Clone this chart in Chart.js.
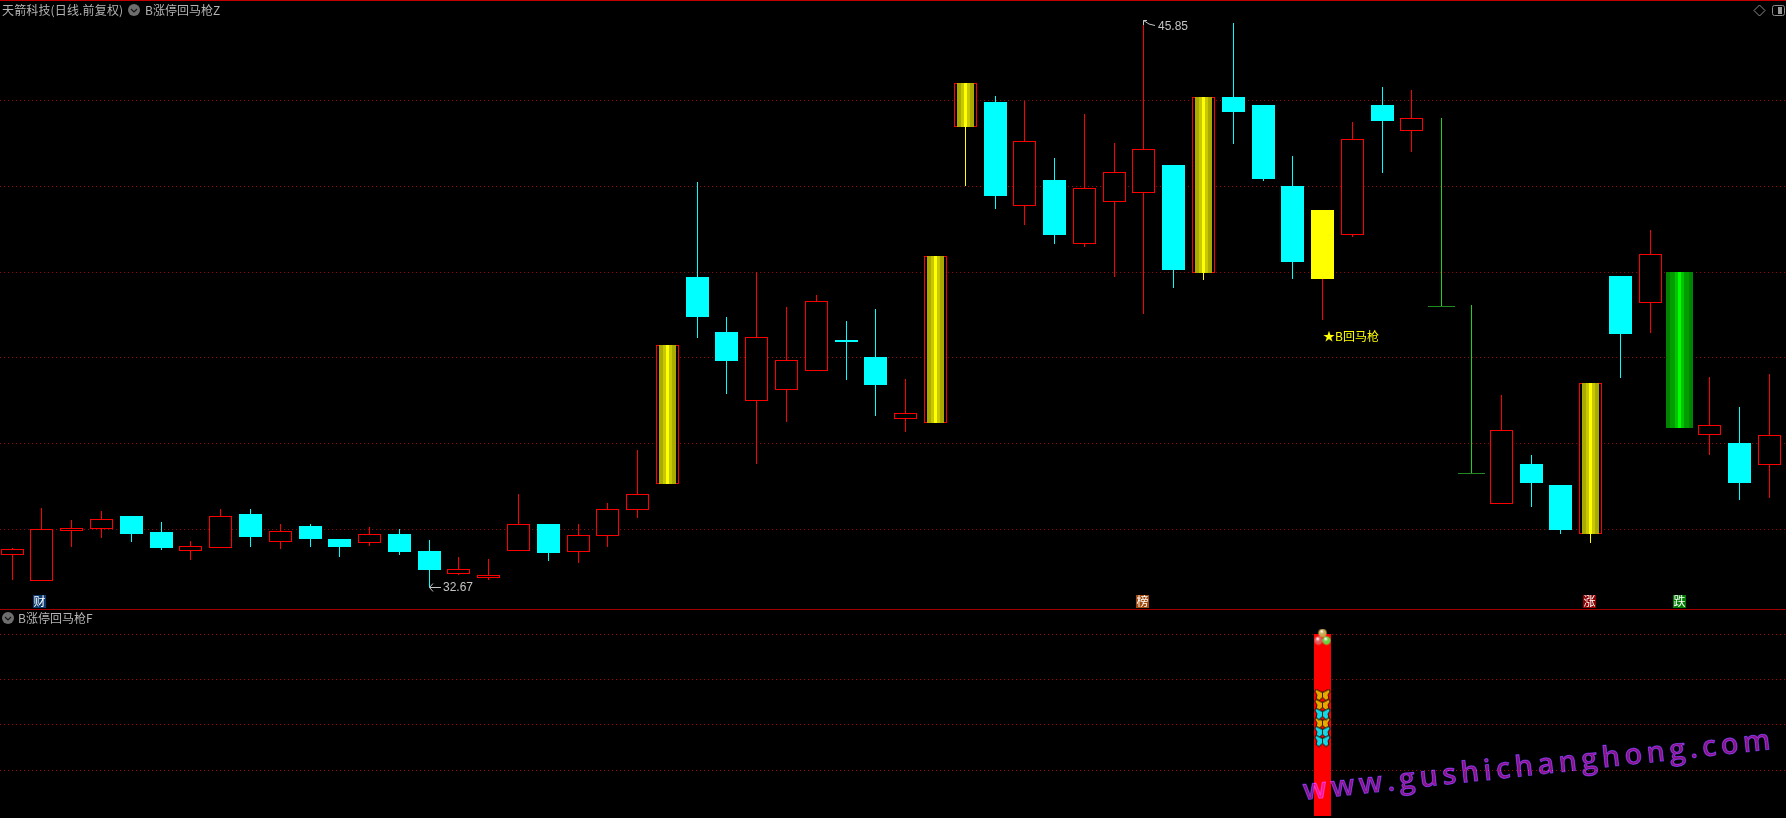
<!DOCTYPE html>
<html lang="zh-CN">
<head>
<meta charset="utf-8">
<title>天箭科技 B涨停回马枪</title>
<script src="https://cdn.jsdelivr.net/npm/chart.js@4/dist/chart.umd.js"></script>
<style>
html,body{margin:0;padding:0;background:#000;overflow:hidden;width:1786px;height:818px}
canvas{position:absolute;left:0;display:block}
#top{top:0}
#bottom{top:610px}
</style>
</head>
<body>
<canvas id="top" width="1786" height="610"></canvas>
<canvas id="bottom" width="1786" height="208"></canvas>
<script>
const opens  = [33.42,32.81,33.98,34.03,34.33,33.95,33.51,33.58,34.38,33.72,34.09,33.79,33.70,33.91,33.51,32.97,32.88,33.51,34.14,33.49,33.86,34.47,35.08,39.91,38.63,37.02,37.27,37.72,38.44,38.04,36.60,36.50,43.42,44.00,41.57,42.18,40.69,41.67,41.88,42.53,40.01,44.12,43.93,42.04,41.48,40.90,43.93,43.33,39.24,35.33,34.61,35.54,35.05,33.91,39.94,39.31,40.03,36.22,36.03,35.52];
const highs  = [33.58,34.52,34.24,34.45,34.33,34.19,33.74,34.49,34.49,34.14,34.14,33.79,34.07,34.03,33.77,33.37,33.32,34.84,34.14,34.14,34.63,35.87,38.32,42.13,38.98,40.03,39.21,39.49,38.89,39.17,37.53,40.40,44.45,44.14,44.03,42.70,43.72,43.05,45.85,42.53,44.12,45.85,43.93,42.74,41.48,43.54,44.35,44.28,43.63,39.26,37.16,35.75,35.05,37.44,39.94,41.01,40.03,37.58,36.88,37.65];
const lows   = [32.83,32.81,33.60,33.81,33.72,33.53,33.30,33.58,33.60,33.56,33.60,33.37,33.63,33.42,32.67,32.95,32.83,33.51,33.28,33.23,33.60,34.28,35.08,38.49,37.18,35.54,36.53,37.72,37.51,36.67,36.29,36.50,42.04,41.50,41.13,40.69,40.62,39.91,39.05,39.66,39.84,43.02,42.16,39.87,38.91,40.85,42.34,42.84,39.21,35.31,34.61,34.54,33.91,33.70,37.55,38.61,36.39,35.75,34.70,34.75];
const closes = [33.56,34.03,34.05,34.26,33.91,33.58,33.63,34.33,33.84,33.98,33.79,33.60,33.91,33.49,33.07,33.09,32.95,34.14,33.46,33.88,34.49,34.84,38.32,38.98,37.95,38.51,37.97,39.35,38.40,37.39,36.74,40.40,44.45,41.81,43.09,40.90,41.99,42.37,42.91,40.08,44.12,43.77,42.20,40.26,39.87,43.14,43.56,43.63,39.21,35.31,36.34,35.10,34.00,37.44,38.58,40.45,36.39,36.46,35.10,36.22];
// r hollow red, c cyan, g gold striped, y solid yellow, f flat limit-down, h green striped
const kinds  = ['r','r','r','r','c','c','r','r','c','r','c','c','r','c','c','r','r','r','c','r','r','r','g','c','c','r','r','r','c','c','r','g','g','c','r','c','r','r','r','c','g','c','c','c','y','r','c','r','f','f','r','c','c','g','c','r','h','r','c','r'];
const categories = kinds.map((_, i) => String(i + 1));

const priceTicks = [44.05,42.04,40.03,38.04,36.03,34.02];
const signalTicks = [100,75.3,50.5,25.3];

const signalBarIndex = 44;
const signalBarValue = 100;
const ballsValue = 98.4;
const goldButterflies = [66.5,61,51];
const cyanButterflies = [56,46,41];

const goldStripes  = [[17,'#aaaa00'],[9,'#c8c800'],[3,'#ffff00']];
const greenStripes = [[27,'#008400'],[19,'#009c00'],[9,'#00c400'],[3,'#00ff00']];
const highLabel = '45.85';
const lowLabel = '32.67';

const RED = '#ff0000', CYAN = '#00ffff', YELLOW = '#ffff00';
const wickColors = {r:RED, c:CYAN, g:YELLOW, y:RED, f:'#20d020', h:'rgba(0,0,0,0)'};

/* scales that land on whole device pixels, as the original terminal does */
class PixelCategory extends Chart.CategoryScale {
  configure() { super.configure(); this._startValue = -0.41; this._valueRange = 59.97; }
  getPixelForValue(v, i) { return Math.floor(super.getPixelForValue(v, i)) + 0.5; }
}
PixelCategory.id = 'pixelcategory';
PixelCategory.defaults = Chart.CategoryScale.defaults;
class PixelLinear extends Chart.LinearScale {
  getPixelForValue(v, i) { return Math.round(super.getPixelForValue(v, i)); }
}
PixelLinear.id = 'pixellinear';
PixelLinear.defaults = Chart.LinearScale.defaults;
Chart.register(PixelCategory, PixelLinear);

const CJK = '"Noto Sans CJK SC","Liberation Sans",sans-serif';
const GREY = '#b4b4b4';

const floatBars = (match) => kinds.map((k, i) => match(k) ? [opens[i], closes[i]] : null);
const stripeSets = (kind, stripes, order) => stripes.map(([w, color], n) => ({
  type: 'bar', grouped: false, order: order - n, barThickness: w, inflateAmount: 0,
  backgroundColor: color, borderWidth: 0,
  data: floatBars(k => k === kind)
}));

function dropIcon(ctx, x, y) {
  ctx.fillStyle = '#6e6e6e';
  ctx.beginPath(); ctx.arc(x, y, 6, 0, Math.PI * 2); ctx.fill();
  ctx.strokeStyle = '#161616'; ctx.lineWidth = 1.2;
  ctx.beginPath(); ctx.moveTo(x - 3, y - 1); ctx.lineTo(x, y + 2); ctx.lineTo(x + 3, y - 1); ctx.stroke();
}
function label(ctx, text, x, y, font, color, spacing) {
  ctx.font = font; ctx.fillStyle = color; ctx.textAlign = 'left'; ctx.textBaseline = 'middle';
  ctx.letterSpacing = spacing || '0px';
  ctx.fillText(text, x, y);
  ctx.letterSpacing = '0px';
}
function badge(ctx, text, cx, color) {
  ctx.fillStyle = color; ctx.fillRect(cx - 7, 595, 13, 13);
  ctx.font = '12px ' + CJK; ctx.fillStyle = '#ffffff'; ctx.textAlign = 'center'; ctx.textBaseline = 'middle';
  ctx.fillText(text, cx - 0.5, 601.5);
}

const topOverlay = {
  id: 'topOverlay',
  afterDraw(chart) {
    const {ctx, scales: {x, y}} = chart;
    ctx.save();
    ctx.fillStyle = '#c00000'; ctx.fillRect(0, 0, 1786, 1);
    ctx.fillStyle = '#a00000'; ctx.fillRect(0, 609, 1786, 1);

    label(ctx, '天箭科技(日线.前复权)', 2, 10, '12px ' + CJK, GREY, '0.15px');
    dropIcon(ctx, 134, 10);
    label(ctx, 'B涨停回马枪Z', 145, 10, '12px ' + CJK, GREY);

    // top-right tool icons
    ctx.strokeStyle = '#8c8c8c'; ctx.lineWidth = 1;
    ctx.beginPath(); ctx.moveTo(1759.5, 5); ctx.lineTo(1765, 10.5); ctx.lineTo(1759.5, 16); ctx.lineTo(1754, 10.5); ctx.closePath(); ctx.stroke();
    ctx.beginPath(); ctx.roundRect(1772.5, 5.5, 12, 10, 2); ctx.stroke();
    ctx.fillStyle = '#9a9a9a'; ctx.fillRect(1778, 7, 4, 7);

    // lowest and highest price marks
    const lx = Math.floor(x.getPixelForValue(14)), ly = y.getPixelForValue(32.67);
    ctx.strokeStyle = '#c4c4c4'; ctx.lineWidth = 1;
    ctx.beginPath(); ctx.moveTo(lx + 4, ly - 3.5); ctx.lineTo(lx + 0.5, ly + 0.5); ctx.lineTo(lx + 4, ly + 4.5);
    ctx.moveTo(lx + 0.5, ly + 0.5); ctx.lineTo(lx + 12, ly + 0.5); ctx.stroke();
    label(ctx, lowLabel, lx + 14, ly + 0.5, '12px "Liberation Sans"', '#c4c4c4');

    const hx = Math.floor(x.getPixelForValue(38)), hy = y.getPixelForValue(45.85);
    ctx.beginPath(); ctx.moveTo(hx + 4, hy - 2.5); ctx.lineTo(hx + 0.5, hy - 2.5); ctx.lineTo(hx + 0.5, hy + 2);
    ctx.moveTo(hx + 0.5, hy - 2.5); ctx.lineTo(hx + 6, hy + 1); ctx.lineTo(hx + 12, hy + 2.5); ctx.stroke();
    label(ctx, highLabel, hx + 15, hy + 4, '12px "Liberation Sans"', '#c4c4c4');

    // signal text under the yellow candle
    const sx = Math.floor(x.getPixelForValue(signalBarIndex));
    label(ctx, '★B回马枪', sx + 1, y.getPixelForValue(38.53), '12px ' + CJK, YELLOW);

    // bottom-of-panel event badges
    badge(ctx, '财', Math.floor(x.getPixelForValue(1)) - 1, '#0a3a6e');
    badge(ctx, '榜', Math.floor(x.getPixelForValue(38)) - 0, '#a04a10');
    badge(ctx, '涨', Math.floor(x.getPixelForValue(53)) - 0, '#8b0000');
    badge(ctx, '跌', Math.floor(x.getPixelForValue(56)) + 1, '#007a00');
    ctx.restore();
  }
};

const bottomOverlay = {
  id: 'bottomOverlay',
  afterDraw(chart) {
    const {ctx} = chart;
    ctx.save();
    dropIcon(ctx, 8, 8);
    label(ctx, 'B涨停回马枪F', 18, 8, '12px ' + CJK, GREY);

    ctx.translate(1304, 190);
    ctx.rotate(-6.2 * Math.PI / 180);
    ctx.globalCompositeOperation = 'lighter';
    ctx.font = '600 29px "Open Sans"';
    ctx.letterSpacing = '4.45px';
    ctx.textAlign = 'left'; ctx.textBaseline = 'alphabetic';
    ctx.lineJoin = 'round';
    ctx.fillStyle = '#8a1486';
    ctx.fillText('www.gushichanghong.com', 0, 0);
    ctx.strokeStyle = '#28288c'; ctx.lineWidth = 1;
    ctx.strokeText('www.gushichanghong.com', 0, 0);
    ctx.restore();
  }
};

function butterfly(color) {
  const c = document.createElement('canvas'); c.width = 17; c.height = 13;
  const g = c.getContext('2d');
  g.fillStyle = color; g.strokeStyle = '#1a1200'; g.lineWidth = 1;
  g.beginPath();
  g.moveTo(8.5, 4); g.lineTo(2, 0.8); g.lineTo(0.8, 3); g.lineTo(3, 6.5); g.lineTo(2, 10); g.lineTo(5, 12.2); g.lineTo(8.5, 9);
  g.lineTo(12, 12.2); g.lineTo(15, 10); g.lineTo(14, 6.5); g.lineTo(16.2, 3); g.lineTo(15, 0.8); g.closePath();
  g.fill(); g.stroke();
  g.strokeStyle = '#3a2400'; g.beginPath(); g.moveTo(8.5, 3); g.lineTo(8.5, 9); g.stroke();
  return c;
}
function ballCluster() {
  const c = document.createElement('canvas'); c.width = 18; c.height = 17;
  const g = c.getContext('2d');
  const ball = (x, y, col) => {
    const r = g.createRadialGradient(x - 1, y - 2, 0.5, x, y, 4.2);
    r.addColorStop(0, '#ffffff'); r.addColorStop(0.45, col); r.addColorStop(1, col);
    g.fillStyle = r; g.beginPath(); g.arc(x, y, 4.2, 0, Math.PI * 2); g.fill();
  };
  ball(9, 4.5, '#c8a850'); ball(5, 12, '#e05a5a'); ball(13, 12, '#6ad040');
  return c;
}
function pointSeries(values, style, order) {
  const ptData = values.map(v => ({x: categories[signalBarIndex], y: v}));
  return {type: 'line', showLine: false, order, clip: false, pointStyle: style, pointRadius: 8, data: ptData};
}

const commonOptions = {
  responsive: false, animation: false, events: [],
  plugins: {legend: {display: false}, tooltip: {enabled: false}, title: {display: false}}
};
const xAxis = {type: 'pixelcategory', display: false, offset: true, grid: {display: false}};
const yAxis = (min, max, ticks, color) => ({
  type: 'pixellinear', position: 'left', min, max, bounds: 'data', alignToPixels: true,
  afterBuildTicks(s) { s.ticks = ticks.map(value => ({value})); },
  afterFit(s) { s.width = 0; },
  ticks: {display: false, autoSkip: false},
  border: {display: false, dash: [1, 3]},
  grid: {color, lineWidth: 1, drawTicks: false}
});

new Chart(document.getElementById('top'), {
  data: {
    labels: categories,
    datasets: [
      {type: 'bar', grouped: false, order: 30, barThickness: 1, inflateAmount: 0, borderWidth: 0,
       backgroundColor: kinds.map(k => wickColors[k]),
       data: kinds.map((_, i) => [lows[i], highs[i]])},
      {type: 'bar', grouped: false, order: 20, barThickness: 23, inflateAmount: 0, borderSkipped: false,
       backgroundColor: kinds.map(k => k === 'c' ? CYAN : k === 'y' ? YELLOW : '#000000'),
       borderColor: RED,
       borderWidth: kinds.map(k => (k === 'r' || k === 'g') ? 1 : 0),
       data: floatBars(k => 'rcgy'.includes(k))},
      {type: 'bar', grouped: false, order: 19, barThickness: 27, inflateAmount: 0, borderWidth: 0,
       backgroundColor: '#208a20',
       data: floatBars(k => k === 'f')},
      ...stripeSets('g', goldStripes, 15),
      ...stripeSets('h', greenStripes, 15)
    ]
  },
  options: {...commonOptions,
    layout: {padding: {left: 0, right: 0, top: 0, bottom: 1}, autoPadding: false},
    scales: {x: xAxis, y: yAxis(32.155, 46.3875, priceTicks, '#9c0000')}},
  plugins: [topOverlay]
});

new Chart(document.getElementById('bottom'), {
  data: {
    labels: categories,
    datasets: [
      {type: 'bar', grouped: false, order: 10, barThickness: 17, inflateAmount: 0, borderWidth: 0,
       backgroundColor: RED,
       data: categories.map((_, i) => i === signalBarIndex ? signalBarValue : null)},
      pointSeries(goldButterflies, butterfly('#e8a800'), 5),
      pointSeries(cyanButterflies, butterfly('#10d8e8'), 4),
      pointSeries([ballsValue], ballCluster(), 3)
    ]
  },
  options: {...commonOptions,
    layout: {padding: 0, autoPadding: false},
    scales: {x: xAxis, y: yAxis(-1.099, 113.187, signalTicks, '#b00000')}},
  plugins: [bottomOverlay]
});
</script>
</body>
</html>
